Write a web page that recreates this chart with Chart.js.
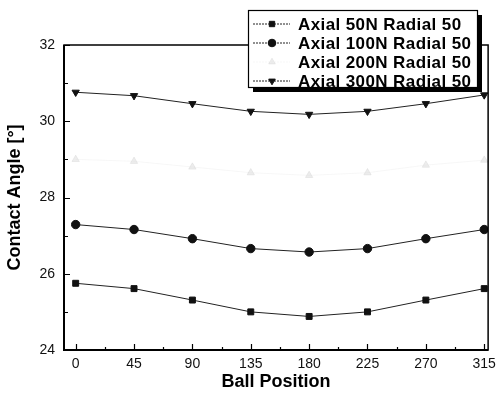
<!DOCTYPE html>
<html>
<head>
<meta charset="utf-8">
<script src="https://cdn.jsdelivr.net/npm/chart.js@4"></script>
<style>
html,body{margin:0;padding:0;background:#fff;}
#wrap{width:502px;height:397px;position:relative;}
</style>
</head>
<body>
<div id="wrap"><canvas id="c" width="502" height="397"></canvas></div>
<script>
const positions = [0, 45, 90, 135, 180, 225, 270, 315];
const axial50 = [25.75, 25.61, 25.31, 25.00, 24.88, 25.00, 25.31, 25.61];
const axial100 = [27.29, 27.16, 26.92, 26.66, 26.57, 26.66, 26.92, 27.16];
const axial200 = [29.00, 28.95, 28.80, 28.65, 28.58, 28.65, 28.85, 28.98];
const axial300 = [30.76, 30.67, 30.46, 30.26, 30.18, 30.26, 30.46, 30.69];
const seriesNames = ["Axial 50N Radial 50", "Axial 100N Radial 50", "Axial 200N Radial 50", "Axial 300N Radial 50"];
const xTicks = [0, 45, 90, 135, 180, 225, 270, 315];
const yTicks = [24, 26, 28, 30, 32];

const FONT = "'Liberation Sans', Arial, sans-serif";
const toPts = arr => arr.map((v, i) => ({x: positions[i], y: v}));

const frame = {
  id: 'frame',
  afterDatasetsDraw(chart) {
    const {ctx, chartArea: a, scales: {x, y}} = chart;
    ctx.save();
    ctx.strokeStyle = '#000';
    ctx.lineWidth = 1.5;
    ctx.strokeRect(a.left, a.top, a.right - a.left, a.bottom - a.top);
    ctx.lineWidth = 2;
    ctx.beginPath();
    ctx.moveTo(a.left, a.top); ctx.lineTo(a.left, a.bottom); ctx.lineTo(a.right, a.bottom);
    ctx.stroke();
    ctx.lineWidth = 1.2;
    ctx.beginPath();
    for (let v = 24; v <= 32; v += 1) {
      const py = Math.round(y.getPixelForValue(v)) + 0.5;
      const len = (v % 2 === 0) ? 6 : 4;
      ctx.moveTo(a.left, py); ctx.lineTo(a.left + len, py);
    }
    for (let v = 0; v <= 315; v += 22.5) {
      const px = Math.round(x.getPixelForValue(v)) + 0.5;
      const len = (v % 45 === 0) ? 6 : 3;
      ctx.moveTo(px, a.bottom); ctx.lineTo(px, a.bottom - len);
    }
    ctx.stroke();
    ctx.restore();
  },
  afterDraw(chart) {
    const ctx = chart.ctx;
    ctx.save();
    const bx = 248, by = 10, bw = 229, bh = 77;
    ctx.fillStyle = '#000';
    ctx.fillRect(bx + 5, by + 5, bw, bh);
    ctx.fillStyle = '#fff';
    ctx.fillRect(bx, by, bw, bh);
    ctx.strokeStyle = '#000';
    ctx.lineWidth = 1.2;
    ctx.strokeRect(bx + 0.5, by + 0.5, bw, bh);
    ctx.font = 'bold 17px ' + FONT;
    if ('letterSpacing' in ctx) ctx.letterSpacing = '0.4px';
    ctx.textBaseline = 'middle';
    const rows = [24, 43, 62, 81];
    chart.data.datasets.forEach((ds, i) => {
      const yy = rows[i];
      ctx.strokeStyle = ds.borderColor;
      ctx.lineWidth = 1;
      ctx.setLineDash([2, 1]);
      ctx.beginPath();
      ctx.moveTo(253, yy); ctx.lineTo(290, yy);
      ctx.stroke();
      ctx.setLineDash([]);
      ctx.fillStyle = ds.pointBackgroundColor;
      ctx.strokeStyle = ds.pointBorderColor;
      Chart.helpers.drawPoint(ctx, {
        pointStyle: ds.pointStyle, radius: 3.8, rotation: ds.pointRotation || 0,
        borderWidth: 1
      }, 272, yy);
      ctx.fillStyle = '#000';
      ctx.fillText(ds.label, 298, yy + 1);
    });
    ctx.restore();
  }
};

function ds(label, data, style, rot, color, pcolor) {
  return {
    label, data: toPts(data),
    borderColor: color, borderWidth: 1,
    pointStyle: style, pointRotation: rot,
    pointRadius: 4.2, pointHoverRadius: 4.2,
    pointBackgroundColor: pcolor, pointBorderColor: pcolor,
    pointBorderWidth: 1, tension: 0, fill: false
  };
}

new Chart(document.getElementById('c'), {
  type: 'line',
  data: {
    datasets: [
      ds(seriesNames[0], axial50, 'rect', 0, '#222', '#111'),
      ds(seriesNames[1], axial100, 'circle', 0, '#222', '#111'),
      ds(seriesNames[2], axial200, 'triangle', 0, 'rgba(235,235,235,0.4)', 'rgba(215,215,215,0.45)'),
      ds(seriesNames[3], axial300, 'triangle', 180, '#222', '#111')
    ]
  },
  options: {
    responsive: false, animation: false,
    layout: {padding: {top: 45, right: 10, left: 0, bottom: 0}},
    plugins: {legend: {display: false}, tooltip: {enabled: false}},
    scales: {
      x: {
        type: 'linear', min: -9, max: 318,
        afterBuildTicks: s => { s.ticks = xTicks.map(v => ({value: v})); },
        afterFit: s => { s.height = 47; },
        grid: {display: false, drawTicks: false},
        border: {display: false},
        ticks: {color: '#111', font: {family: FONT, size: 14}, padding: 6, maxRotation: 0},
        title: {display: true, text: 'Ball Position', color: '#000',
          font: {family: FONT, size: 18, weight: 'bold'}, padding: {top: 1}}
      },
      y: {
        min: 24, max: 32,
        afterBuildTicks: s => { s.ticks = yTicks.map(v => ({value: v})); },
        afterFit: s => { s.width = 64; },
        grid: {display: false, drawTicks: false},
        border: {display: false},
        ticks: {color: '#111', font: {family: FONT, size: 14}, padding: 9},
        title: {display: true, text: 'Contact Angle [°]', color: '#000',
          font: {family: FONT, size: 18, weight: 'bold'}, padding: {bottom: 2}}
      }
    }
  },
  plugins: [frame]
});
</script>
</body>
</html>
